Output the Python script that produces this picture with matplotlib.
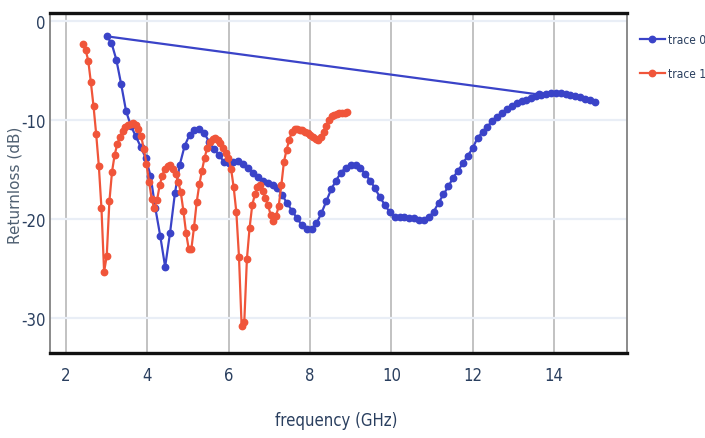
import matplotlib
matplotlib.use("Agg")
import matplotlib.pyplot as plt

plt.rcParams["axes.unicode_minus"] = False

# trace 0: first row sits at ~13.6 GHz, then the sweep from 3 to 15 GHz
freq0 = [13.62,
         3.00, 3.12, 3.24, 3.36, 3.48, 3.60, 3.72, 3.84, 3.96, 4.08,
         4.20, 4.32, 4.44, 4.56, 4.68, 4.80, 4.92, 5.04, 5.16, 5.28,
         5.40, 5.52, 5.64, 5.76, 5.88, 6.00, 6.12, 6.24, 6.36, 6.48,
         6.60, 6.72, 6.84, 6.96, 7.08, 7.20, 7.32, 7.44, 7.56, 7.68,
         7.80, 7.92, 8.04, 8.16, 8.28, 8.40, 8.52, 8.64, 8.76, 8.88,
         9.00, 9.12, 9.24, 9.36, 9.48, 9.60, 9.72, 9.84, 9.96, 10.08,
         10.20, 10.32, 10.44, 10.56, 10.68, 10.80, 10.92, 11.04, 11.16, 11.28,
         11.40, 11.52, 11.64, 11.76, 11.88, 12.00, 12.12, 12.24, 12.36, 12.48,
         12.60, 12.72, 12.84, 12.96, 13.08, 13.20, 13.32, 13.44, 13.56, 13.68,
         13.80, 13.92, 14.04, 14.16, 14.28, 14.40, 14.52, 14.64, 14.76, 14.88,
         15.00]
rl0 = [-7.42,
       -1.55, -2.2, -3.9, -6.4, -9.1, -10.6, -11.65, -12.7, -13.8, -15.6,
       -18.9, -21.7, -24.8, -21.4, -17.4, -14.5, -12.6, -11.5, -11.0, -10.9,
       -11.3, -12.2, -12.9, -13.5, -14.2, -14.3, -14.2, -14.1, -14.4, -14.8,
       -15.3, -15.75, -16.1, -16.3, -16.55, -16.9, -17.6, -18.4, -19.15, -19.9,
       -20.6, -21.0, -21.0, -20.4, -19.4, -18.2, -17.0, -16.1, -15.3, -14.8,
       -14.5, -14.55, -14.85, -15.45, -16.1, -16.9, -17.8, -18.55, -19.3, -19.75,
       -19.8, -19.8, -19.85, -19.9, -20.1, -20.05, -19.8, -19.25, -18.35, -17.5,
       -16.7, -15.8, -15.1, -14.35, -13.6, -12.8, -11.8, -11.2, -10.65, -10.1,
       -9.65, -9.3, -8.9, -8.6, -8.3, -8.1, -7.95, -7.75, -7.55, -7.45,
       -7.35, -7.3, -7.3, -7.3, -7.4, -7.5, -7.6, -7.72, -7.85, -8.0,
       -8.15]

# trace 1
freq1 = [2.420, 2.485, 2.550, 2.615, 2.680, 2.745, 2.810, 2.875, 2.940, 3.005,
         3.070, 3.135, 3.200, 3.265, 3.330, 3.395, 3.460, 3.525, 3.590, 3.655,
         3.720, 3.785, 3.850, 3.915, 3.980, 4.045, 4.110, 4.175, 4.240, 4.305,
         4.370, 4.435, 4.500, 4.565, 4.630, 4.695, 4.760, 4.825, 4.890, 4.955,
         5.020, 5.085, 5.150, 5.215, 5.280, 5.345, 5.410, 5.475, 5.540, 5.605,
         5.670, 5.735, 5.800, 5.865, 5.930, 5.995, 6.060, 6.125, 6.190, 6.255,
         6.320, 6.385, 6.450, 6.515, 6.580, 6.645, 6.710, 6.775, 6.840, 6.905,
         6.970, 7.035, 7.100, 7.165, 7.230, 7.295, 7.360, 7.425, 7.490, 7.555,
         7.620, 7.685, 7.750, 7.815, 7.880, 7.945, 8.010, 8.075, 8.140, 8.205,
         8.270, 8.335, 8.400, 8.465, 8.530, 8.595, 8.660, 8.725, 8.790, 8.855,
         8.920]
rl1 = [-2.3, -2.9, -4.0, -6.2, -8.6, -11.4, -14.6, -18.9, -25.3, -23.7,
       -18.2, -15.2, -13.5, -12.4, -11.7, -11.1, -10.7, -10.5, -10.35, -10.3,
       -10.5, -10.9, -11.6, -12.9, -14.4, -16.2, -18.0, -18.9, -18.1, -16.6,
       -15.6, -14.9, -14.6, -14.5, -14.9, -15.4, -16.2, -17.3, -19.2, -21.4,
       -23.0, -23.0, -20.8, -18.3, -16.5, -15.1, -13.8, -12.8, -12.2, -11.9,
       -11.8, -12.0, -12.3, -12.8, -13.3, -13.8, -14.9, -16.8, -19.3, -23.8,
       -30.8, -30.4, -24.0, -20.9, -18.6, -17.5, -16.8, -16.6, -17.2, -17.9,
       -18.6, -19.6, -20.2, -19.7, -18.7, -16.6, -14.2, -13.0, -12.0, -11.2,
       -10.95, -10.9, -11.0, -11.05, -11.2, -11.35, -11.5, -11.7, -11.9, -12.0,
       -11.7, -11.2, -10.6, -9.95, -9.6, -9.45, -9.4, -9.3, -9.3, -9.25,
       -9.2]

x_ticks = [2, 4, 6, 8, 10, 12, 14]
y_ticks = [0, -10, -20, -30]

tick_color = "#2a3f5f"
cond = dict(family="DejaVu Sans", stretch="condensed")

fig = plt.figure(figsize=(7.05, 4.39), dpi=100)
ax = fig.add_axes([0.0709, 0.1936, 0.8184, 0.7745])

ax.plot(freq0, rl0, color="#3a43c8", lw=1.6, marker="o", ms=4.6,
        label="trace 0", zorder=3)
ax.plot(freq1, rl1, color="#f0553a", lw=1.6, marker="o", ms=4.6,
        label="trace 1", zorder=4)

ax.set_xlim(1.61, 15.79)
ax.set_ylim(-33.5, 0.8)
ax.set_xticks(x_ticks)
ax.set_yticks(y_ticks)

# plotly-like grid: darker verticals, pale horizontals
ax.xaxis.grid(True, color="#bdbdbd", lw=1.3)
ax.yaxis.grid(True, color="#e9eef6", lw=1.6)
ax.set_axisbelow(True)

for side in ["top", "bottom"]:
    ax.spines[side].set_color("#111111")
    ax.spines[side].set_linewidth(2.4)
for side in ["left", "right"]:
    ax.spines[side].set_color("#8a8a8a")
    ax.spines[side].set_linewidth(1.4)

ax.tick_params(length=0, labelsize=12, labelcolor=tick_color)
ax.tick_params(axis="x", pad=9)
ax.tick_params(axis="y", pad=3)
for lab in ax.get_xticklabels() + ax.get_yticklabels():
    lab.set_family("DejaVu Sans")
    lab.set_stretch("condensed")

ax.set_ylabel("Returnloss (dB)", fontsize=11, color="#4f6072",
              family="DejaVu Sans")
ax.yaxis.set_label_coords(-0.047, 0.497)
ax.set_xlabel("frequency (GHz)", fontsize=12, color=tick_color, **cond)
ax.xaxis.set_label_coords(0.496, -0.17)

leg = ax.legend(loc="upper left", bbox_to_anchor=(1.022, 0.94), frameon=False,
                numpoints=1, handlelength=2.1, handletextpad=0.25,
                labelspacing=1.7, prop=dict(size=8.6, **cond),
                borderaxespad=0, borderpad=0)
for t in leg.get_texts():
    t.set_color(tick_color)

fig.savefig("out.png", dpi=100)
